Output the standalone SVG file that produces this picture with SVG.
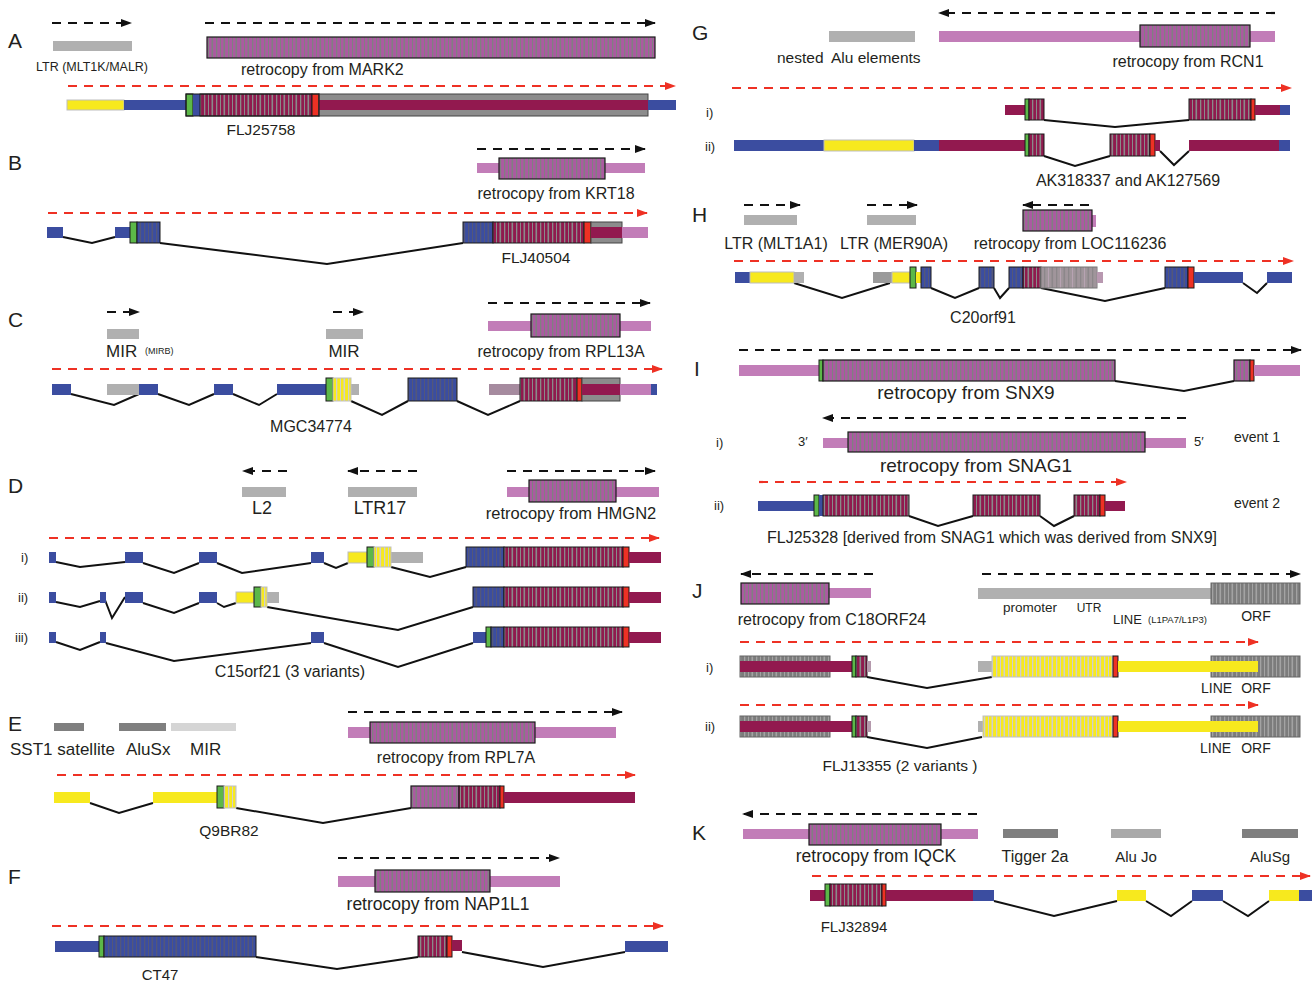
<svg xmlns="http://www.w3.org/2000/svg" width="1312" height="984" viewBox="0 0 1312 984">
<defs>
<pattern id="pp" width="12" height="10" patternUnits="userSpaceOnUse"><rect width="12" height="10" fill="#ab5aa1"/><rect x="0" width="1.3" height="10" fill="#808080"/><rect x="4" width="1" height="10" fill="#808080"/><rect x="7.5" width="1.6" height="10" fill="#808080"/></pattern>
<pattern id="pm" width="12" height="10" patternUnits="userSpaceOnUse"><rect width="12" height="10" fill="#8f1a4e"/><rect x="0" width="1.3" height="10" fill="#8a8a8a"/><rect x="4" width="1" height="10" fill="#8a8a8a"/><rect x="7.5" width="1.6" height="10" fill="#8a8a8a"/></pattern>
<pattern id="pb" width="12" height="10" patternUnits="userSpaceOnUse"><rect width="12" height="10" fill="#3b4da0"/><rect x="0" width="1.3" height="10" fill="#53577a"/><rect x="4" width="1" height="10" fill="#53577a"/><rect x="7.5" width="1.6" height="10" fill="#53577a"/></pattern>
<pattern id="py" width="12" height="10" patternUnits="userSpaceOnUse"><rect width="12" height="10" fill="#f7e91e"/><rect x="0" width="1.3" height="10" fill="#cfcfcf"/><rect x="4" width="1" height="10" fill="#cfcfcf"/><rect x="7.5" width="1.6" height="10" fill="#cfcfcf"/></pattern>
<pattern id="pgr" width="12" height="10" patternUnits="userSpaceOnUse"><rect width="12" height="10" fill="#7c7c7c"/><rect x="0" width="1.3" height="10" fill="#a3a3a3"/><rect x="4" width="1" height="10" fill="#a3a3a3"/><rect x="7.5" width="1.6" height="10" fill="#a3a3a3"/></pattern>
<pattern id="pmv" width="12" height="10" patternUnits="userSpaceOnUse"><rect width="12" height="10" fill="#a0959b"/><rect x="0" width="1.3" height="10" fill="#8c878a"/><rect x="4" width="1" height="10" fill="#b7a3b2"/><rect x="7.5" width="1.6" height="10" fill="#8c878a"/></pattern>
<marker id="ak" markerWidth="12" markerHeight="10" refX="10" refY="5" orient="auto" markerUnits="userSpaceOnUse"><path d="M0,1 L11,5 L0,9 z" fill="#111"/></marker>
<marker id="ar" markerWidth="12" markerHeight="10" refX="10" refY="5" orient="auto" markerUnits="userSpaceOnUse"><path d="M0,1 L11,5 L0,9 z" fill="#ee3124"/></marker>
<style>
text{font-family:"Liberation Sans",Arial,sans-serif;fill:#231f20}
.L{font-size:21px}
.t{font-size:16px}
.s{font-size:13px}
.c{text-anchor:middle}
.b{fill:#3b4da0}
.m{fill:#92194f}
.p{fill:#c27db8}
.g{fill:#b0b0b0}
.dg{fill:#7f7f7f}
.lg{fill:#d5d5d5}
.y{fill:#f7e91e;stroke:#bdbdbd;stroke-width:1}
.yy{fill:#f7e91e}
.gn{fill:#5cb848;stroke:#1a1a1a;stroke-width:1}
.rd{fill:#ee3124;stroke:#1a1a1a;stroke-width:1}
.sp{fill:url(#pp);stroke:#1a1a1a;stroke-width:1.2}
.sm{fill:url(#pm);stroke:#1a1a1a;stroke-width:1}
.sb{fill:url(#pb);stroke:#1a1a1a;stroke-width:1}
.sy{fill:url(#py);stroke:#c0c0c0;stroke-width:1}
.sg{fill:url(#pgr);stroke:#666;stroke-width:1}
.gx{fill:#8c8c8c;stroke:#444;stroke-width:1}
.in{fill:none;stroke:#111;stroke-width:2}
.ka{stroke:#111;stroke-width:2.2;stroke-dasharray:9 7;marker-end:url(#ak);fill:none}
.ra{stroke:#ee3124;stroke-width:2.2;stroke-dasharray:9 7;marker-end:url(#ar);fill:none}
</style>
</defs>
<rect width="1312" height="984" fill="#fff"/>

<g id="strand-arrows">
<line class="ka" x1="52" y1="23" x2="131" y2="23"/>
<line class="ka" x1="205" y1="23" x2="655" y2="23"/>
<line class="ra" x1="68" y1="86" x2="675" y2="86"/>
<line class="ka" x1="477" y1="149" x2="645" y2="149"/>
<line class="ra" x1="48" y1="213" x2="647" y2="213"/>
<line class="ka" x1="107" y1="312" x2="139" y2="312"/>
<line class="ka" x1="333" y1="312" x2="363" y2="312"/>
<line class="ka" x1="488" y1="303" x2="650" y2="303"/>
<line class="ra" x1="52" y1="369" x2="662" y2="369"/>
<line class="ka" x1="287" y1="471" x2="243" y2="471"/>
<line class="ka" x1="417" y1="471" x2="348" y2="471"/>
<line class="ka" x1="507" y1="471" x2="655" y2="471"/>
<line class="ra" x1="49" y1="538" x2="659" y2="538"/>
<line class="ka" x1="348" y1="712" x2="622" y2="712"/>
<line class="ra" x1="57" y1="775" x2="635" y2="775"/>
<line class="ka" x1="338" y1="858" x2="559" y2="858"/>
<line class="ra" x1="52" y1="926" x2="663" y2="926"/>
<line class="ka" x1="1275" y1="13" x2="939" y2="13"/>
<line class="ra" x1="732" y1="88" x2="1291" y2="88"/>
<line class="ka" x1="744" y1="205" x2="800" y2="205"/>
<line class="ka" x1="867" y1="205" x2="917" y2="205"/>
<line class="ka" x1="1089" y1="205" x2="1023" y2="205"/>
<line class="ra" x1="734" y1="261" x2="1293" y2="261"/>
<line class="ka" x1="739" y1="350" x2="1301" y2="350"/>
<line class="ka" x1="1186" y1="418" x2="823" y2="418"/>
<line class="ra" x1="759" y1="482" x2="1126" y2="482"/>
<line class="ka" x1="873" y1="574" x2="741" y2="574"/>
<line class="ka" x1="982" y1="574" x2="1300" y2="574"/>
<line class="ra" x1="740" y1="642" x2="1258" y2="642"/>
<line class="ra" x1="740" y1="705" x2="1258" y2="705"/>
<line class="ka" x1="977" y1="814" x2="743" y2="814"/>
<line class="ra" x1="812" y1="876" x2="1310" y2="876"/>
</g>

<g id="connectors">
<polyline class="in" points="63,237 92,243 115,237"/>
<polyline class="in" points="160,243 327,264 463,243"/>
<polyline class="in" points="71,394 114,405 139,394"/>
<polyline class="in" points="158,394 189,405 214,394"/>
<polyline class="in" points="233,394 259,405 277,394"/>
<polyline class="in" points="351,401 382,415 408,401"/>
<polyline class="in" points="457,401 488,415 520,401"/>
<polyline class="in" points="56,562 80,567 125,562"/>
<polyline class="in" points="143,563 174,573 199,563"/>
<polyline class="in" points="217,563 242,573 311,563"/>
<polyline class="in" points="324,563 336,568 348,563"/>
<polyline class="in" points="391,567 430,577 466,567"/>
<polyline class="in" points="56,602 80,607 100,601"/>
<polyline class="in" points="105,600 112,618 125,597"/>
<polyline class="in" points="143,603 174,613 199,603"/>
<polyline class="in" points="217,603 224,607 236,603"/>
<polyline class="in" points="267,607 398,630 473,607"/>
<polyline class="in" points="56,642 80,650 100,642"/>
<polyline class="in" points="106,643 174,661 311,643"/>
<polyline class="in" points="324,643 398,667 473,643"/>
<polyline class="in" points="90,803 119,813 153,803"/>
<polyline class="in" points="236,808 323,823 411,808"/>
<polyline class="in" points="256,957 337,969 418,957"/>
<polyline class="in" points="462,952 543,967 625,952"/>
<polyline class="in" points="1044,120 1115,127 1189,120"/>
<polyline class="in" points="1044,156 1075,166 1110,156"/>
<polyline class="in" points="1160,151 1174,165 1189,151"/>
<polyline class="in" points="794,283 842,298 890,283"/>
<polyline class="in" points="931,288 955,298 979,288"/>
<polyline class="in" points="994,288 1000,298 1009,288"/>
<polyline class="in" points="1041,288 1105,301 1165,288"/>
<polyline class="in" points="1243,283 1257,293 1267,283"/>
<polyline class="in" points="1115,381 1184,391 1234,381"/>
<polyline class="in" points="909,516 938,526 973,516"/>
<polyline class="in" points="1040,516 1054,526 1074,516"/>
<polyline class="in" points="867,677 927,688 992,677"/>
<polyline class="in" points="867,737 927,748 982,737"/>
<polyline class="in" points="994,901 1054,916 1117,901"/>
<polyline class="in" points="1146,901 1171,916 1192,901"/>
<polyline class="in" points="1223,901 1248,916 1269,901"/>
</g>

<g id="A">
<text class="L" x="8" y="48">A</text>
<g id="A-LTR"><rect class="g" x="53" y="41" width="79" height="10"/>
<text x="92" y="71" font-size="12.5" class="c">LTR (MLT1K/MALR)</text></g>
<g id="A-retro"><rect class="sp" x="207" y="37" width="448" height="21"/>
<text class="t" x="241" y="75">retrocopy from MARK2</text></g>
<g id="FLJ25758">
<rect class="y" x="67" y="100" width="57" height="10"/>
<rect class="b" x="124" y="100" width="62" height="10"/>
<rect class="gn" x="186" y="94" width="7" height="22"/>
<rect class="b" x="193" y="94" width="7" height="22"/>
<rect class="sm" x="200" y="94" width="112" height="22"/>
<rect class="rd" x="312" y="94" width="7" height="22"/>
<rect class="gx" x="319" y="94" width="329" height="22"/>
<rect class="m" x="319" y="100" width="329" height="10"/>
<rect class="b" x="648" y="100" width="28" height="10"/>
<rect x="186" y="94" width="133" height="22" fill="none" stroke="#1a1a1a"/>
<text x="261" y="135" font-size="15.5" class="c">FLJ25758</text>
</g>
</g>

<g id="B">
<text class="L" x="8" y="170">B</text>
<g id="B-retro"><rect class="p" x="477" y="163" width="168" height="10"/>
<rect class="sp" x="499" y="158" width="106" height="21"/>
<text class="t c" x="556" y="199">retrocopy from KRT18</text></g>
<g id="FLJ40504">
<rect class="b" x="47" y="227" width="16" height="11"/>
<rect class="b" x="115" y="227" width="15" height="11"/>
<rect class="gn" x="130" y="222" width="7" height="21"/>
<rect class="sb" x="137" y="222" width="23" height="21"/>
<rect class="sb" x="463" y="222" width="30" height="21"/>
<rect class="sm" x="493" y="222" width="91" height="21"/>
<rect class="rd" x="584" y="222" width="7" height="21"/>
<rect class="gx" x="591" y="222" width="31" height="21"/>
<rect class="m" x="591" y="227" width="31" height="11"/>
<rect class="p" x="622" y="227" width="26" height="11"/>
<text x="536" y="263" font-size="15.5" class="c">FLJ40504</text>
</g>
</g>

<g id="C">
<text class="L" x="8" y="327">C</text>
<g id="C-MIR1"><rect class="g" x="107" y="329" width="32" height="10"/>
<text x="106" y="357" font-size="17">MIR</text><text x="145" y="354" font-size="9">(MIRB)</text></g>
<g id="C-MIR2"><rect class="g" x="326" y="329" width="37" height="10"/>
<text x="344" y="357" font-size="17" class="c">MIR</text></g>
<g id="C-retro"><rect class="p" x="488" y="321" width="163" height="10"/>
<rect class="sp" x="531" y="314" width="89" height="23"/>
<text class="t c" x="561" y="357">retrocopy from RPL13A</text></g>
<g id="MGC34774">
<rect class="b" x="52" y="384" width="19" height="11"/>
<rect class="g" x="107" y="384" width="32" height="11"/>
<rect class="b" x="139" y="384" width="19" height="11"/>
<rect class="b" x="214" y="384" width="19" height="11"/>
<rect class="b" x="277" y="384" width="49" height="11"/>
<rect class="g" x="351" y="384" width="8" height="11"/>
<rect class="gn" x="326" y="378" width="7" height="23"/>
<rect class="sy" x="333" y="378" width="18" height="23"/>
<rect class="sb" x="408" y="378" width="49" height="23"/>
<rect x="489" y="384" width="31" height="11" fill="#a68b9f"/>
<rect class="sm" x="520" y="378" width="57" height="23"/>
<rect class="rd" x="577" y="378" width="5" height="23"/>
<rect class="gx" x="582" y="378" width="38" height="23"/>
<rect class="m" x="582" y="384" width="38" height="11"/>
<rect class="p" x="620" y="384" width="31" height="11"/>
<rect class="b" x="651" y="384" width="6" height="11"/>
<text class="t c" x="311" y="432">MGC34774</text>
</g>
</g>

<g id="D">
<text class="L" x="8" y="493">D</text>
<g id="D-L2"><rect class="g" x="242" y="487" width="44" height="10"/>
<text x="262" y="514" font-size="18" class="c">L2</text></g>
<g id="D-LTR17"><rect class="g" x="348" y="487" width="69" height="10"/>
<text x="380" y="514" font-size="18" class="c">LTR17</text></g>
<g id="D-retro"><rect class="p" x="507" y="487" width="152" height="10"/>
<rect class="sp" x="529" y="480" width="87" height="22"/>
<text x="571" y="519" font-size="16.5" class="c">retrocopy from HMGN2</text></g>
<g id="C15orf21">
<text class="s" x="21" y="562">i)</text>
<rect class="b" x="49" y="552" width="7" height="11"/>
<rect class="b" x="125" y="552" width="18" height="11"/>
<rect class="b" x="199" y="552" width="18" height="11"/>
<rect class="b" x="311" y="552" width="13" height="11"/>
<rect class="y" x="348" y="552" width="19" height="11"/>
<rect class="g" x="391" y="552" width="32" height="11"/>
<rect class="gn" x="367" y="547" width="7" height="20"/>
<rect class="sy" x="374" y="547" width="17" height="20"/>
<rect class="sb" x="466" y="547" width="38" height="20"/>
<rect class="sm" x="504" y="547" width="119" height="20"/>
<rect class="rd" x="623" y="547" width="6" height="20"/>
<rect class="m" x="629" y="552" width="32" height="11"/>
<text class="s" x="18" y="602">ii)</text>
<rect class="b" x="49" y="592" width="7" height="11"/>
<rect class="b" x="100" y="592" width="6" height="11"/>
<rect class="b" x="125" y="592" width="18" height="11"/>
<rect class="b" x="199" y="592" width="18" height="11"/>
<rect class="y" x="236" y="592" width="18" height="11"/>
<rect class="g" x="267" y="592" width="12" height="11"/>
<rect class="gn" x="254" y="587" width="7" height="20"/>
<rect class="sy" x="261" y="587" width="6" height="20"/>
<rect class="sb" x="473" y="587" width="31" height="20"/>
<rect class="sm" x="504" y="587" width="119" height="20"/>
<rect class="rd" x="623" y="587" width="6" height="20"/>
<rect class="m" x="629" y="592" width="32" height="11"/>
<text class="s" x="15" y="642">iii)</text>
<rect class="b" x="49" y="632" width="7" height="11"/>
<rect class="b" x="100" y="632" width="6" height="11"/>
<rect class="b" x="311" y="632" width="13" height="11"/>
<rect class="b" x="473" y="632" width="13" height="11"/>
<rect class="gn" x="486" y="627" width="5" height="20"/>
<rect class="sb" x="491" y="627" width="13" height="20"/>
<rect class="sm" x="504" y="627" width="119" height="20"/>
<rect class="rd" x="623" y="627" width="6" height="20"/>
<rect class="m" x="629" y="632" width="32" height="11"/>
<text class="t c" x="290" y="677">C15orf21 (3 variants)</text>
</g>
</g>

<g id="E">
<text class="L" x="8" y="731">E</text>
<g id="E-TE"><rect class="dg" x="54" y="723" width="30" height="8"/>
<rect class="dg" x="119" y="723" width="47" height="8"/>
<rect class="lg" x="171" y="723" width="65" height="8"/>
<text x="10" y="755" font-size="17">SST1 satellite</text>
<text x="126" y="755" font-size="17">AluSx</text>
<text x="190" y="755" font-size="17">MIR</text></g>
<g id="E-retro"><rect class="p" x="348" y="727" width="268" height="11"/>
<rect class="sp" x="370" y="722" width="165" height="21"/>
<text class="t c" x="456" y="763">retrocopy from RPL7A</text></g>
<g id="Q9BR82">
<rect class="yy" x="54" y="792" width="36" height="11"/>
<rect class="yy" x="153" y="792" width="64" height="11"/>
<rect class="gn" x="217" y="786" width="7" height="22"/>
<rect class="sy" x="224" y="786" width="12" height="22"/>
<rect class="sp" x="411" y="786" width="48" height="22"/>
<rect class="sm" x="459" y="786" width="41" height="22"/>
<rect class="rd" x="500" y="786" width="4" height="22"/>
<rect class="m" x="504" y="792" width="131" height="11"/>
<text x="229" y="836" font-size="15.5" class="c">Q9BR82</text>
</g>
</g>

<g id="F">
<text class="L" x="8" y="884">F</text>
<g id="F-retro"><rect class="p" x="338" y="876" width="222" height="11"/>
<rect class="sp" x="375" y="870" width="115" height="22"/>
<text x="438" y="910" font-size="17.5" class="c">retrocopy from NAP1L1</text></g>
<g id="CT47">
<rect class="b" x="55" y="941" width="44" height="11"/>
<rect class="gn" x="99" y="936" width="5" height="21"/>
<rect class="sb" x="104" y="936" width="152" height="21"/>
<rect class="sm" x="418" y="936" width="29" height="21"/>
<rect class="rd" x="447" y="936" width="5" height="21"/>
<rect class="m" x="452" y="940" width="10" height="11"/>
<rect class="b" x="625" y="941" width="43" height="11"/>
<text x="160" y="980" font-size="15" class="c">CT47</text>
</g>
</g>

<g id="G">
<text class="L" x="692" y="40">G</text>
<g id="G-Alu"><rect class="g" x="829" y="31" width="86" height="11"/>
<text x="777" y="63" font-size="15.5">nested</text><text x="831" y="63" font-size="15.5">Alu elements</text></g>
<g id="G-retro"><rect class="p" x="939" y="31" width="336" height="11"/>
<rect class="sp" x="1140" y="25" width="110" height="22"/>
<text class="t c" x="1188" y="67">retrocopy from RCN1</text></g>
<g id="AK318337">
<text class="s" x="706" y="117">i)</text>
<rect class="m" x="1005" y="105" width="20" height="10"/>
<rect class="gn" x="1025" y="99" width="4" height="21"/>
<rect class="sm" x="1029" y="99" width="15" height="21"/>
<rect class="sm" x="1189" y="99" width="62" height="21"/>
<rect class="rd" x="1251" y="99" width="4" height="21"/>
<rect class="m" x="1255" y="105" width="25" height="10"/>
<rect class="b" x="1280" y="105" width="10" height="10"/>
<text class="s" x="705" y="151">ii)</text>
<rect class="b" x="734" y="140" width="90" height="11"/>
<rect class="y" x="824" y="140" width="90" height="11"/>
<rect class="b" x="914" y="140" width="25" height="11"/>
<rect class="m" x="939" y="140" width="86" height="11"/>
<rect class="gn" x="1025" y="134" width="4" height="22"/>
<rect class="sm" x="1029" y="134" width="15" height="22"/>
<rect class="sm" x="1110" y="134" width="40" height="22"/>
<rect class="rd" x="1150" y="134" width="5" height="22"/>
<rect class="m" x="1155" y="140" width="5" height="11"/>
<rect class="m" x="1189" y="140" width="90" height="11"/>
<rect class="b" x="1279" y="140" width="11" height="11"/>
<text class="t c" x="1128" y="186">AK318337 and AK127569</text>
</g>
</g>

<g id="H">
<text class="L" x="692" y="222">H</text>
<g id="H-LTR1"><rect class="g" x="744" y="215" width="53" height="10"/>
<text class="t c" x="776" y="249">LTR (MLT1A1)</text></g>
<g id="H-LTR2"><rect class="g" x="867" y="215" width="49" height="10"/>
<text class="t c" x="894" y="249">LTR (MER90A)</text></g>
<g id="H-retro"><rect class="p" x="1092" y="215" width="4" height="12"/>
<rect class="sp" x="1023" y="210" width="69" height="21"/>
<text class="t c" x="1070" y="249">retrocopy from LOC116236</text></g>
<g id="C20orf91">
<rect class="b" x="735" y="272" width="15" height="11"/>
<rect class="y" x="750" y="272" width="44" height="11"/>
<rect class="g" x="794" y="272" width="10" height="11"/>
<rect x="873" y="272" width="19" height="11" fill="#9a9a9a"/>
<rect class="y" x="892" y="272" width="18" height="11"/>
<rect class="gn" x="910" y="267" width="6" height="21"/>
<rect class="yy" x="916" y="272" width="5" height="11"/>
<rect class="sb" x="921" y="267" width="10" height="21"/>
<rect class="sb" x="979" y="267" width="15" height="21"/>
<rect class="sb" x="1009" y="267" width="14" height="21"/>
<rect class="sm" x="1023" y="267" width="18" height="21"/>
<rect x="1041" y="267" width="56" height="21" fill="url(#pmv)" stroke="#777"/>
<rect x="1097" y="272" width="6" height="11" fill="#b898b0"/>
<rect class="sb" x="1165" y="267" width="23" height="21"/>
<rect class="rd" x="1188" y="267" width="6" height="21"/>
<rect class="b" x="1194" y="272" width="49" height="11"/>
<rect class="b" x="1267" y="272" width="25" height="11"/>
<text class="t c" x="983" y="323">C20orf91</text>
</g>
</g>

<g id="I">
<text class="L" x="694" y="376">I</text>
<g id="I-retro-SNX9">
<rect class="p" x="739" y="365" width="80" height="11"/>
<rect class="gn" x="819" y="360" width="4" height="21"/>
<rect class="sp" x="823" y="360" width="292" height="21"/>
<rect class="sp" x="1234" y="360" width="16" height="21"/>
<rect class="rd" x="1250" y="360" width="4" height="21"/>
<rect class="p" x="1254" y="365" width="46" height="11"/>
<text x="966" y="399" font-size="19" class="c">retrocopy from SNX9</text>
</g>
<g id="I-retro-SNAG1">
<text class="s" x="716" y="447">i)</text>
<text class="s" x="798" y="446">3′</text>
<rect class="p" x="823" y="438" width="363" height="10"/>
<rect class="sp" x="848" y="432" width="297" height="20"/>
<text class="s" x="1194" y="446">5′</text>
<text x="1234" y="442" font-size="14">event 1</text>
<text x="976" y="472" font-size="19" class="c">retrocopy from SNAG1</text>
</g>
<g id="FLJ25328">
<text class="s" x="714" y="510">ii)</text>
<rect class="b" x="758" y="501" width="56" height="10"/>
<rect class="gn" x="814" y="495" width="5" height="21"/>
<rect class="b" x="819" y="495" width="4" height="21"/>
<rect class="sm" x="823" y="495" width="86" height="21"/>
<rect class="sm" x="973" y="495" width="67" height="21"/>
<rect class="sm" x="1074" y="495" width="26" height="21"/>
<rect class="rd" x="1100" y="495" width="5" height="21"/>
<rect class="m" x="1105" y="501" width="20" height="10"/>
<text x="1234" y="508" font-size="14">event 2</text>
<text class="t c" x="992" y="543">FLJ25328 [derived from SNAG1 which was derived from SNX9]</text>
</g>
</g>

<g id="J">
<text class="L" x="692" y="598">J</text>
<g id="J-retro"><rect class="p" x="829" y="588" width="42" height="10"/>
<rect class="sp" x="741" y="583" width="88" height="21"/>
<text class="t c" x="832" y="625">retrocopy from C18ORF24</text></g>
<g id="J-LINE"><rect class="g" x="978" y="588" width="233" height="11"/>
<rect class="sg" x="1211" y="583" width="89" height="21"/>
<text x="1030" y="612" font-size="13.5" class="c">promoter</text>
<text x="1089" y="612" font-size="12" class="c">UTR</text>
<text x="1113" y="624" font-size="13">LINE</text>
<text x="1148" y="623" font-size="9.5">(L1PA7/L1P3)</text>
<text x="1256" y="621" font-size="14" class="c">ORF</text></g>
<g id="FLJ13355">
<text class="s" x="706" y="672">i)</text>
<rect class="sg" x="740" y="656" width="90" height="21"/>
<rect class="m" x="740" y="661" width="112" height="11"/>
<rect class="gn" x="852" y="656" width="4" height="21"/>
<rect class="sm" x="856" y="656" width="11" height="21"/>
<rect x="867" y="661" width="4" height="11" fill="#b59aad"/>
<rect class="g" x="978" y="661" width="14" height="11"/>
<rect class="sg" x="1211" y="656" width="89" height="21"/>
<rect class="sy" x="992" y="656" width="121" height="21"/>
<rect class="rd" x="1113" y="656" width="5" height="21"/>
<rect class="yy" x="1118" y="661" width="140" height="11"/>
<text x="1201" y="693" font-size="14">LINE</text>
<text x="1256" y="693" font-size="14" class="c">ORF</text>
<text class="s" x="705" y="731">ii)</text>
<rect class="sg" x="740" y="716" width="90" height="21"/>
<rect class="m" x="740" y="721" width="112" height="11"/>
<rect class="gn" x="852" y="716" width="4" height="21"/>
<rect class="sm" x="856" y="716" width="11" height="21"/>
<rect x="867" y="721" width="4" height="11" fill="#b59aad"/>
<rect class="g" x="978" y="721" width="5" height="11"/>
<rect class="sg" x="1211" y="716" width="89" height="21"/>
<rect class="sy" x="983" y="716" width="130" height="21"/>
<rect class="rd" x="1113" y="716" width="5" height="21"/>
<rect class="yy" x="1118" y="721" width="140" height="11"/>
<text x="1200" y="753" font-size="14">LINE</text>
<text x="1256" y="753" font-size="14" class="c">ORF</text>
<text x="900" y="771" font-size="15.5" class="c">FLJ13355  (2 variants )</text>
</g>
</g>

<g id="K">
<text class="L" x="692" y="840">K</text>
<g id="K-retro"><rect class="p" x="743" y="829" width="235" height="10"/>
<rect class="sp" x="809" y="824" width="132" height="21"/>
<text x="876" y="862" font-size="17.5" class="c">retrocopy from IQCK</text></g>
<g id="K-Tigger"><rect class="dg" x="1003" y="829" width="55" height="9"/>
<text x="1035" y="862" font-size="16" class="c">Tigger 2a</text></g>
<g id="K-AluJo"><rect x="1111" y="829" width="50" height="9" fill="#a9a9a9"/>
<text x="1136" y="862" font-size="15" class="c">Alu Jo</text></g>
<g id="K-AluSg"><rect class="dg" x="1242" y="829" width="56" height="9"/>
<text x="1270" y="862" font-size="15" class="c">AluSg</text></g>
<g id="FLJ32894">
<rect class="m" x="810" y="890" width="15" height="11"/>
<rect class="gn" x="825" y="884" width="5" height="22"/>
<rect class="sm" x="830" y="884" width="52" height="22"/>
<rect class="rd" x="882" y="884" width="4" height="22"/>
<rect class="m" x="886" y="890" width="87" height="11"/>
<rect class="b" x="973" y="890" width="21" height="11"/>
<rect class="yy" x="1117" y="890" width="29" height="11"/>
<rect class="b" x="1192" y="890" width="31" height="11"/>
<rect class="yy" x="1269" y="890" width="30" height="11"/>
<rect class="b" x="1299" y="890" width="13" height="11"/>
<text x="854" y="932" font-size="15" class="c">FLJ32894</text>
</g>
</g>
</svg>
